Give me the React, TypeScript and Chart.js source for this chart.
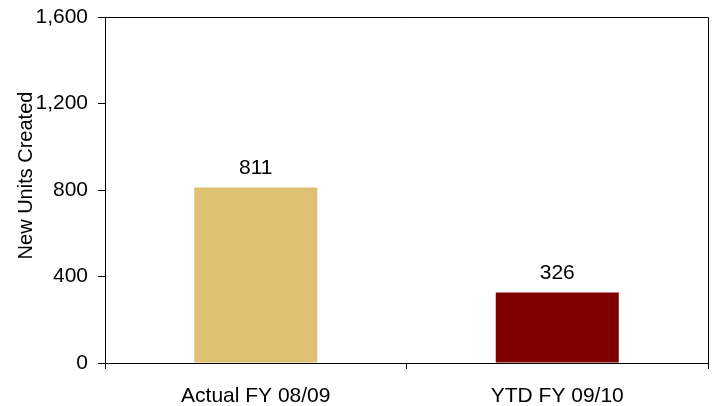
import React, { useEffect, useRef } from "react";
import { Chart, registerables } from "chart.js";

Chart.register(...registerables);

const categories = ["Actual FY 08/09", "YTD FY 09/10"];
const values = [811, 326];
const barColors = ["#DFC173", "#800000"];
const yTitle = "New Units Created";
const yMin = 0;
const yMax = 1600;
const yStep = 400;

const FONT = "'Liberation Sans', Arial, Helvetica, sans-serif";
const FS = 21;

export default function App() {
  const ref = useRef<HTMLCanvasElement | null>(null);

  useEffect(() => {
    if (!ref.current) return;
    const framePlugin = {
      id: "frame",
      afterDraw(chart: any) {
        const { ctx, chartArea } = chart;
        ctx.save();
        // top and right frame
        ctx.strokeStyle = "#000";
        ctx.lineWidth = 1;
        ctx.beginPath();
        ctx.moveTo(chartArea.left, chartArea.top + 0.5);
        ctx.lineTo(chartArea.right + 0.5, chartArea.top + 0.5);
        ctx.lineTo(chartArea.right + 0.5, chartArea.bottom);
        ctx.stroke();
        // value labels
        ctx.fillStyle = "#000";
        ctx.font = `${FS}px ${FONT}`;
        ctx.textAlign = "center";
        ctx.textBaseline = "alphabetic";
        const meta = chart.getDatasetMeta(0);
        meta.data.forEach((bar: any, i: number) => {
          ctx.fillText(String(values[i]), bar.x, bar.y - 14);
        });
        // y-axis title
        ctx.font = `20px ${FONT}`;
        ctx.translate(32, 175.5);
        ctx.rotate(-Math.PI / 2);
        ctx.fillText(yTitle, 0, 0);
        ctx.restore();
      },
    };

    const chart = new Chart(ref.current, {
      type: "bar",
      data: {
        labels: categories,
        datasets: [
          {
            data: values,
            backgroundColor: barColors,
            borderWidth: 0,
            categoryPercentage: 1,
            barPercentage: 0.408,
          },
        ],
      },
      options: {
        animation: false,
        responsive: false,
        devicePixelRatio: 1,
        layout: { padding: { top: 17, right: 7, left: 0, bottom: 0 } },
        plugins: {
          legend: { display: false },
          tooltip: { enabled: false },
        },
        scales: {
          x: {
            grid: {
              offset: true,
              drawOnChartArea: false,
              drawTicks: true,
              tickLength: 6,
              color: "#000",
            },
            border: { display: true, color: "#000", width: 1 },
            ticks: {
              color: "#000",
              font: { family: FONT, size: FS },
              padding: 15,
              maxRotation: 0,
            },
            afterFit(scale: any) {
              scale.height = 43;
              scale.paddingLeft = 0;
              scale.paddingRight = 0;
            },
          },
          y: {
            min: yMin,
            max: yMax,
            grid: {
              drawOnChartArea: false,
              drawTicks: true,
              tickLength: 7,
              color: "#000",
            },
            border: { display: true, color: "#000", width: 1 },
            ticks: {
              stepSize: yStep,
              color: "#000",
              font: { family: FONT, size: FS },
              padding: 10,
              callback: (v: any) => Number(v).toLocaleString("en-US"),
            },
            afterFit(scale: any) {
              scale.width = 105;
              scale.paddingTop = 0;
              scale.paddingBottom = 0;
            },
          },
        },
      },
      plugins: [framePlugin],
    });
    return () => chart.destroy();
  }, []);

  return (
    <div style={{ position: "fixed", left: 0, top: 0, width: 715, height: 406, background: "#fff" }}>
      <canvas ref={ref} width={715} height={406} />
    </div>
  );
}
